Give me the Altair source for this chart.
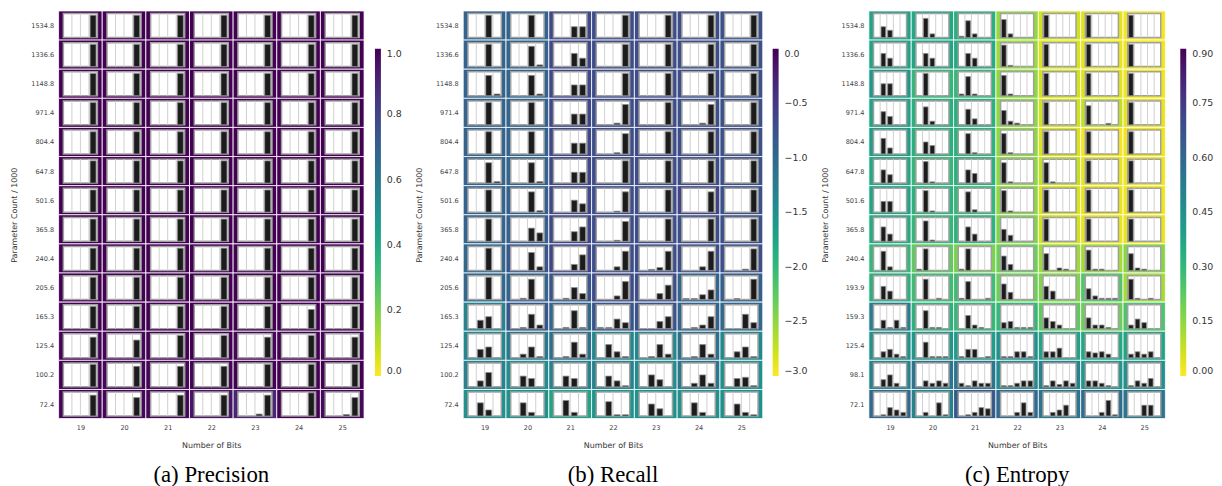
"""Heatmaps of precision, recall and entropy with a mini histogram per cell."""

import altair as alt
import pandas as pd

BITS = [19, 20, 21, 22, 23, 24, 25]

# row labels, top row first
PREC_ROWS = ["1534.8", "1336.6", "1148.8", "971.4", "804.4", "647.8", "501.6",
             "365.8", "240.4", "205.6", "165.3", "125.4", "100.2", "72.4"]
ENT_ROWS = ["1534.8", "1336.6", "1148.8", "971.4", "804.4", "647.8", "501.6",
            "365.8", "240.4", "193.9", "159.3", "125.4", "98.1", "72.1"]

PREC_VALUES = [
    [1.0, 1.0, 1.0, 1.0, 1.0, 1.0, 1.0],
    [1.0, 1.0, 1.0, 1.0, 1.0, 1.0, 1.0],
    [1.0, 1.0, 1.0, 1.0, 1.0, 1.0, 1.0],
    [1.0, 1.0, 1.0, 1.0, 1.0, 1.0, 1.0],
    [1.0, 1.0, 1.0, 1.0, 1.0, 1.0, 1.0],
    [1.0, 1.0, 1.0, 1.0, 1.0, 1.0, 1.0],
    [1.0, 1.0, 1.0, 1.0, 1.0, 1.0, 1.0],
    [1.0, 1.0, 1.0, 1.0, 1.0, 1.0, 1.0],
    [1.0, 1.0, 1.0, 1.0, 1.0, 1.0, 1.0],
    [1.0, 1.0, 1.0, 1.0, 1.0, 1.0, 1.0],
    [1.0, 1.0, 1.0, 1.0, 1.0, 1.0, 1.0],
    [0.99, 0.99, 1.0, 1.0, 0.99, 1.0, 0.99],
    [1.0, 0.99, 0.99, 0.99, 1.0, 1.0, 1.0],
    [0.99, 0.99, 0.99, 0.95, 0.9, 1.0, 0.98],
]

F = 0.93
PREC_BARS = [
    [[0, 0, 0, F]] * 7,
    [[0, 0, 0, F]] * 7,
    [[0, 0, 0, F]] * 7,
    [[0, 0, 0, F]] * 7,
    [[0, 0, 0, F]] * 7,
    [[0, 0, 0, F]] * 7,
    [[0, 0, 0, F]] * 7,
    [[0, 0, 0, F]] * 7,
    [[0, 0, 0, F]] * 7,
    [[0, 0, 0, F]] * 7,
    [[0, 0, 0, F], [0, 0, 0, F], [0, 0, 0, F], [0, 0, 0, F], [0, 0, 0, F], [0, 0, 0, 0.8], [0, 0, 0, F]],
    [[0, 0, 0, 0.86], [0, 0, 0, 0.74], [0, 0, 0, F], [0, 0, 0, F], [0, 0, 0, 0.86], [0, 0, 0, F], [0, 0, 0, 0.86]],
    [[0, 0, 0, 0.94], [0, 0, 0, 0.86], [0, 0, 0, 0.86], [0, 0, 0, 0.86], [0, 0, 0, 0.94], [0, 0, 0, 0.94], [0, 0, 0, 0.94]],
    [[0, 0, 0, 0.87], [0, 0, 0, 0.77], [0, 0, 0, 0.87], [0, 0, 0, 0.87], [0, 0, 0.08, 0.87], [0, 0, 0, 0.97], [0, 0, 0.06, 0.77]],
]

REC_VALUES = [
    [-0.95, -0.95, -0.65, -0.68, -0.68, -0.7, -0.72],
    [-0.95, -0.95, -0.65, -0.68, -0.68, -0.7, -0.72],
    [-0.95, -0.95, -0.65, -0.68, -0.68, -0.7, -0.72],
    [-0.95, -0.95, -0.65, -0.7, -0.68, -0.72, -0.72],
    [-0.95, -0.95, -0.65, -0.7, -0.68, -0.7, -0.72],
    [-0.95, -0.95, -0.65, -0.68, -0.68, -0.7, -0.72],
    [-0.95, -0.9, -0.65, -0.7, -0.7, -0.6, -0.72],
    [-0.95, -0.9, -0.65, -0.7, -0.7, -0.7, -0.72],
    [-1.0, -0.8, -0.62, -0.7, -0.7, -0.7, -0.7],
    [-1.0, -0.95, -0.8, -0.68, -0.7, -0.95, -0.9],
    [-1.35, -0.8, -1.0, -0.8, -0.75, -0.95, -1.0],
    [-1.4, -1.2, -1.1, -1.4, -1.4, -1.1, -1.4],
    [-1.3, -1.45, -1.3, -1.3, -1.45, -1.2, -1.5],
    [-1.5, -1.5, -1.75, -1.55, -1.5, -1.5, -1.5],
]

REC_BARS = [
    [[0, 0, F, 0], [0, 0, F, 0], [0, 0, 0.45, 0.45], [0, 0, 0, F], [0, 0, 0, F], [0, 0, 0, F], [0, 0, 0, F]],
    [[0, 0, F, 0], [0, 0, 0.85, 0.07], [0, 0, 0.55, 0.35], [0, 0, 0, F], [0, 0, 0, F], [0, 0, 0, F], [0, 0, 0, F]],
    [[0, 0, 0.85, 0.07], [0, 0, 0.85, 0.07], [0, 0, 0.45, 0.45], [0, 0, 0, F], [0, 0, 0, F], [0, 0, 0, F], [0, 0, 0, F]],
    [[0, 0, F, 0], [0, 0, F, 0], [0, 0, 0.45, 0.45], [0, 0, 0.07, 0.85], [0, 0, 0, F], [0, 0, 0.07, 0.85], [0, 0, 0, F]],
    [[0, 0, F, 0], [0, 0, F, 0], [0, 0, 0.45, 0.45], [0, 0, 0.05, 0.85], [0, 0, 0, F], [0, 0, 0, F], [0, 0, 0, F]],
    [[0, 0, 0.85, 0.06], [0, 0, 0.85, 0.06], [0, 0, 0.45, 0.45], [0, 0, 0, F], [0, 0, 0, F], [0, 0, 0, F], [0, 0, 0, F]],
    [[0, 0, F, 0], [0, 0, 0.85, 0.06], [0, 0, 0.5, 0.35], [0, 0, 0.04, 0.85], [0, 0, 0, F], [0, 0, 0, 0.85], [0, 0, 0, F]],
    [[0, 0, F, 0], [0, 0, 0.55, 0.35], [0, 0, 0.4, 0.6], [0, 0, 0.04, 0.83], [0, 0, 0, F], [0, 0, 0, F], [0, 0, 0, F]],
    [[0, 0, F, 0], [0, 0, 0.75, 0.15], [0, 0, 0.25, 0.65], [0, 0, 0.15, 0.8], [0, 0.04, 0.12, 0.8], [0, 0, 0.15, 0.8], [0, 0, 0.05, 0.9]],
    [[0, 0, F, 0], [0, 0.05, 0.85, 0], [0, 0.05, 0.5, 0.25], [0, 0, 0.15, 0.75], [0, 0, 0.25, 0.6], [0.04, 0.04, 0.2, 0.4], [0, 0.04, 0, 0.85]],
    [[0, 0.35, 0.5, 0], [0, 0.05, 0.6, 0.15], [0, 0.05, 0.75, 0.05], [0.05, 0.05, 0.4, 0.25], [0, 0, 0.3, 0.5], [0, 0.05, 0.15, 0.5], [0, 0, 0.6, 0.25]],
    [[0, 0.35, 0.45, 0], [0, 0.15, 0.45, 0.05], [0, 0.05, 0.65, 0.15], [0, 0.55, 0.25, 0.05], [0, 0.05, 0.55, 0.15], [0, 0.05, 0.55, 0.15], [0, 0.25, 0.45, 0.05]],
    [[0, 0.25, 0.6, 0], [0, 0.45, 0.35, 0], [0, 0.45, 0.35, 0], [0, 0.45, 0.25, 0.05], [0, 0.5, 0.3, 0], [0, 0.15, 0.5, 0.15], [0, 0.35, 0.4, 0.05]],
    [[0, 0.55, 0.25, 0], [0, 0.55, 0.15, 0], [0, 0.65, 0.15, 0], [0, 0.6, 0.05, 0.05], [0, 0.5, 0.3, 0], [0, 0.55, 0.15, 0], [0, 0.5, 0.15, 0.05]],
]

ENT_VALUES = [
    [0.38, 0.36, 0.33, 0.14, 0.06, 0.04, 0.01],
    [0.38, 0.37, 0.35, 0.13, 0.05, 0.03, 0.02],
    [0.42, 0.30, 0.30, 0.15, 0.06, 0.04, 0.02],
    [0.38, 0.33, 0.33, 0.15, 0.06, 0.08, 0.03],
    [0.40, 0.33, 0.32, 0.15, 0.05, 0.01, 0.02],
    [0.36, 0.30, 0.33, 0.15, 0.08, 0.03, 0.02],
    [0.38, 0.32, 0.30, 0.15, 0.05, 0.03, 0.02],
    [0.35, 0.30, 0.32, 0.17, 0.06, 0.03, 0.03],
    [0.30, 0.22, 0.18, 0.20, 0.13, 0.12, 0.16],
    [0.33, 0.28, 0.28, 0.20, 0.17, 0.24, 0.12],
    [0.52, 0.32, 0.30, 0.30, 0.22, 0.20, 0.25],
    [0.45, 0.42, 0.40, 0.45, 0.38, 0.36, 0.37],
    [0.50, 0.55, 0.55, 0.47, 0.50, 0.43, 0.45],
    [0.60, 0.50, 0.65, 0.60, 0.55, 0.58, 0.55],
]

ENT_BARS = [
    [[0, 0.45, 0.3, 0, 0], [0, 0.8, 0.15, 0, 0], [0.05, 0.7, 0.15, 0, 0], [0.75, 0.15, 0, 0, 0], [F, 0, 0, 0, 0], [F, 0, 0, 0, 0], [F, 0, 0, 0, 0]],
    [[0, 0.55, 0.35, 0, 0], [0, 0.55, 0.35, 0, 0], [0, 0.55, 0.35, 0, 0], [0.9, 0.05, 0, 0, 0], [F, 0, 0, 0, 0], [F, 0, 0, 0, 0], [F, 0, 0, 0, 0]],
    [[0, 0.5, 0.5, 0, 0], [0, F, 0, 0, 0], [0.07, 0.8, 0.07, 0, 0], [0.85, 0.07, 0, 0, 0], [F, 0, 0, 0, 0], [F, 0, 0, 0, 0], [F, 0, 0, 0, 0]],
    [[0, 0.55, 0.35, 0, 0], [0, 0.75, 0.15, 0, 0], [0, 0.65, 0.25, 0, 0], [0.6, 0.15, 0.07, 0, 0], [F, 0, 0, 0, 0], [0.8, 0, 0, 0.06, 0], [F, 0, 0, 0, 0]],
    [[0, 0.65, 0.25, 0, 0], [0, 0.5, 0.35, 0, 0], [0, 0.85, 0.05, 0, 0], [0.85, 0.05, 0, 0, 0], [F, 0, 0, 0, 0], [F, 0, 0, 0, 0], [F, 0, 0, 0, 0]],
    [[0, 0.55, 0.35, 0, 0], [0, 0.9, 0.05, 0, 0], [0, 0.55, 0.4, 0, 0], [0.85, 0.05, 0, 0, 0], [0.85, 0.05, 0, 0, 0], [F, 0, 0, 0, 0], [F, 0, 0, 0, 0]],
    [[0, 0.45, 0.45, 0, 0], [0, 0.9, 0.05, 0, 0], [0, 0.85, 0.1, 0, 0], [0.9, 0.05, 0, 0, 0], [F, 0, 0, 0, 0], [F, 0, 0, 0, 0], [F, 0, 0, 0, 0]],
    [[0, 0.6, 0.3, 0, 0], [0, 0.85, 0.05, 0, 0], [0, 0.6, 0.3, 0, 0], [0.5, 0.25, 0, 0, 0], [F, 0, 0, 0, 0], [F, 0, 0, 0, 0], [F, 0, 0, 0, 0]],
    [[0, 0.8, 0.15, 0, 0], [0.05, 0.9, 0, 0, 0], [0.05, 0.9, 0, 0, 0], [0.6, 0.25, 0, 0, 0], [0.7, 0, 0.1, 0.05, 0], [0.85, 0.05, 0.05, 0, 0], [0.7, 0.1, 0.05, 0, 0]],
    [[0, 0.55, 0.35, 0, 0], [0, 0.85, 0, 0.05, 0], [0.05, 0.75, 0, 0, 0.05], [0.65, 0.3, 0, 0, 0], [0.55, 0.35, 0, 0, 0], [0.45, 0.15, 0.05, 0.05, 0.05], [0.85, 0.05, 0, 0.05, 0]],
    [[0, 0.35, 0.05, 0.35, 0.05], [0, 0.75, 0.05, 0.05, 0], [0, 0.55, 0.15, 0.05, 0], [0.25, 0.3, 0.05, 0.05, 0.05], [0.45, 0.3, 0.15, 0, 0], [0.45, 0.15, 0.15, 0.05, 0], [0.15, 0.4, 0.25, 0, 0]],
    [[0, 0.25, 0.35, 0.15, 0.05], [0, 0.65, 0.05, 0.05, 0.05], [0.05, 0.35, 0.35, 0, 0.05], [0.05, 0.05, 0.25, 0.25, 0.05], [0.25, 0.25, 0.4, 0, 0], [0.25, 0.2, 0.25, 0.15, 0], [0.15, 0.25, 0.15, 0.25, 0]],
    [[0, 0.3, 0.5, 0.15, 0], [0, 0.25, 0.15, 0.25, 0.15], [0.15, 0.05, 0.25, 0.15, 0.15], [0.05, 0.05, 0.15, 0.25, 0.25], [0.05, 0.25, 0.1, 0.25, 0.15], [0.25, 0.25, 0.15, 0.05, 0], [0.05, 0.25, 0.15, 0.35, 0]],
    [[0, 0.05, 0.35, 0.25, 0.15], [0, 0.15, 0, 0.55, 0.05], [0, 0.05, 0.15, 0.35, 0.3], [0, 0, 0.15, 0.55, 0.15], [0, 0.15, 0.25, 0.45, 0], [0, 0, 0.15, 0.65, 0.05], [0, 0, 0.45, 0.45, 0]],
]

BOX_W = 0.39   # half width of the white inset, in column units
BOX_H = 0.41   # half height of the white inset, in row units
FONT = "DejaVu Sans"


def cells_frame(values):
    n = len(values)
    recs = []
    for i, row_vals in enumerate(values):
        for j, bit in enumerate(BITS):
            recs.append({"row": n - 1 - i, "bit": bit, "value": row_vals[j]})
    return pd.DataFrame(recs)


def bars_frame(bars):
    n = len(bars)
    recs = []
    for i, row_bars in enumerate(bars):
        for j, bit in enumerate(BITS):
            for k, h in enumerate(row_bars[j]):
                if h > 0:
                    recs.append({"row": n - 1 - i, "bit": bit, "slot": k, "h": h})
    return pd.DataFrame(recs)


def make_panel(rows, values, bars, domain, ticks, fmt, caption, width, legend_dx):
    n_slots = len(bars[0][0])
    sw = 2 * BOX_W / n_slots
    labels = list(reversed(rows))
    label_expr = "[" + ",".join(f"'{r}'" for r in labels) + "][datum.value]"

    x_scale = alt.Scale(domain=[18.5, 25.5], nice=False, zero=False)
    y_scale = alt.Scale(domain=[-0.5, 13.5], nice=False, zero=False)
    x_axis = alt.Axis(values=BITS, format="d", title="Number of Bits", labelPadding=6,
                      titlePadding=11)
    y_axis = alt.Axis(values=list(range(len(rows))), labelExpr=label_expr,
                      labelOverlap=False, title="Parameter Count / 1000",
                      labelPadding=5, titlePadding=12)
    x_enc = alt.X("x0:Q", scale=x_scale, axis=x_axis)
    y_enc = alt.Y("y0:Q", scale=y_scale, axis=y_axis)

    cells = cells_frame(values)
    bar_df = bars_frame(bars)

    heat = alt.Chart(cells).transform_calculate(
        x0="datum.bit - 0.5", x1="datum.bit + 0.5",
        y0="datum.row - 0.5", y1="datum.row + 0.5"
    ).mark_rect(stroke="white", strokeWidth=1, strokeOpacity=0.8).encode(
        x=x_enc, x2="x1:Q", y=y_enc, y2="y1:Q",
        color=alt.Color("value:Q",
                        scale=alt.Scale(scheme="viridis", domain=domain, reverse=True),
                        legend=alt.Legend(title=None, orient="none", direction="vertical",
                                          legendX=width + legend_dx, legendY=38,
                                          gradientLength=330, gradientThickness=6,
                                          values=ticks, format=fmt, labelFontSize=9.5,
                                          labelFont=FONT, labelColor="#333",
                                          labelOffset=6, gradientStrokeWidth=0))
    )

    box = alt.Chart(cells).transform_calculate(
        x0=f"datum.bit - {BOX_W}", x1=f"datum.bit + {BOX_W}",
        y0=f"datum.row - {BOX_H}", y1=f"datum.row + {BOX_H}"
    ).mark_rect(fill="white", stroke="#a0a0a0", strokeWidth=1.5).encode(
        x=x_enc, x2="x1:Q", y=y_enc, y2="y1:Q"
    )

    dividers = alt.Chart(cells).transform_calculate(
        k=f"sequence(1, {n_slots})"
    ).transform_flatten(["k"]).transform_calculate(
        x0=f"datum.bit - {BOX_W} + datum.k * {sw}",
        y0=f"datum.row - {BOX_H}", y1=f"datum.row + {BOX_H}"
    ).mark_rule(color="#cfcfcf", strokeWidth=1).encode(
        x=x_enc, y=y_enc, y2="y1:Q"
    )

    mini = alt.Chart(bar_df).transform_calculate(
        x0=f"datum.bit - {BOX_W} + (datum.slot + 0.14) * {sw}",
        x1=f"datum.bit - {BOX_W} + (datum.slot + 0.84) * {sw}",
        y0=f"datum.row - {BOX_H}",
        y1=f"datum.row - {BOX_H} + datum.h * {2 * BOX_H}"
    ).mark_rect(fill="#1c1c1c", stroke="#8c8c8c", strokeWidth=0.8).encode(
        x=x_enc, x2="x1:Q", y=y_enc, y2="y1:Q"
    )

    return alt.layer(heat, box, dividers, mini).properties(
        width=width, height=411,
        title=alt.TitleParams(caption, orient="bottom", font="Liberation Serif",
                              fontSize=23, fontWeight="normal", color="black",
                              anchor="middle", frame="group", offset=14)
    )


prec = make_panel(PREC_ROWS, PREC_VALUES, PREC_BARS, [0, 1],
                  [0, 0.2, 0.4, 0.6, 0.8, 1.0], ".1f", "(a) Precision", 308, 11)
rec = make_panel(PREC_ROWS, REC_VALUES, REC_BARS, [-3, 0],
                 [-3, -2.5, -2, -1.5, -1, -0.5, 0], ".1f", "(b) Recall", 302, 10)
ent = make_panel(ENT_ROWS, ENT_VALUES, ENT_BARS, [0, 0.9],
                 [0, 0.15, 0.3, 0.45, 0.6, 0.75, 0.9], ".2f", "(c) Entropy", 299, 15)

chart = alt.hconcat(prec, rec, ent, spacing=12).resolve_scale(
    color="independent", x="independent", y="independent"
).resolve_axis(
    x="independent", y="independent"
).properties(
    padding={"left": 2, "top": 0, "right": 0, "bottom": 0}
).configure_view(
    stroke=None
).configure_axis(
    labelFont=FONT, titleFont=FONT, labelFontSize=6.6, titleFontSize=8,
    labelColor="#444", titleColor="#333", titleFontWeight="normal",
    ticks=False, domain=False, grid=False
)

chart.save("out.html", embed_options={"renderer": "svg", "actions": False})
